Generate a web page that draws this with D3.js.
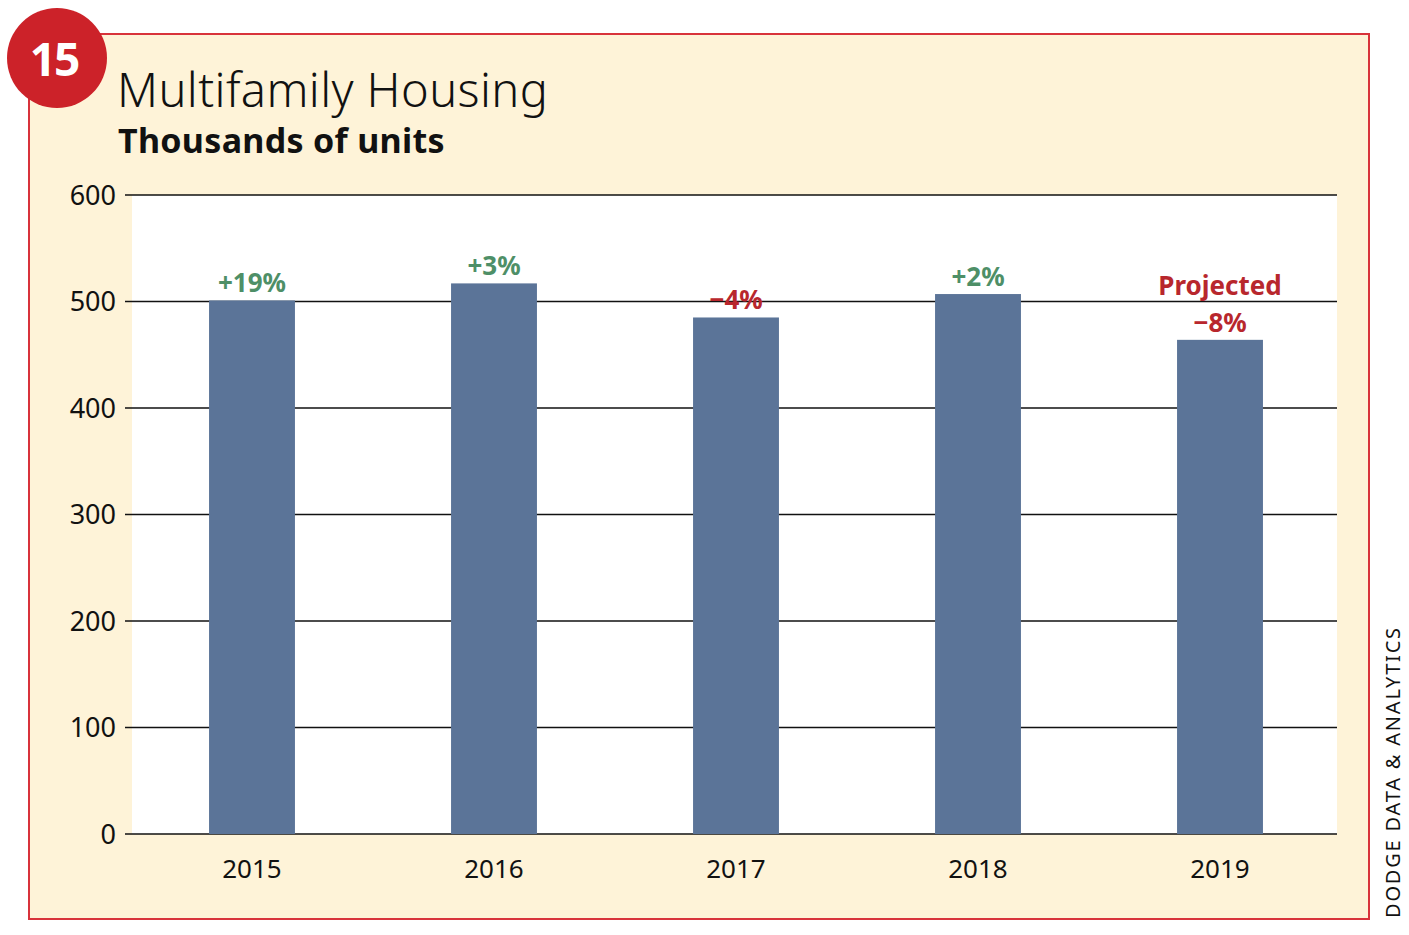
<!DOCTYPE html>
<html><head><meta charset="utf-8">
<script src="https://cdn.jsdelivr.net/npm/d3@7"></script>
<style>body{margin:0;background:#fff;} svg{display:block;font-family:"Noto Sans","Open Sans",sans-serif;}</style>
</head><body>
<svg id="c" width="1409" height="935"></svg>
<script>
const years = ["2015","2016","2017","2018","2019"];
const units = [501, 517, 485, 507, 464];
const changes = ["+19%","+3%","\u22124%","+2%","\u22128%"];
const changeColors = ["#4e8f67","#4e8f67","#b8272d","#4e8f67","#b8272d"];
const yTicks = [0,100,200,300,400,500,600];

const svg = d3.select("#c");
svg.append("rect").attr("x",29).attr("y",34).attr("width",1340).attr("height",885)
  .attr("fill","#fef3d8").attr("stroke","#d8333b").attr("stroke-width",2);

const L=132, R=1337, T=195, B=834;
svg.append("rect").attr("x",L).attr("y",T).attr("width",R-L).attr("height",B-T).attr("fill","#fff");

const x = d3.scaleBand().domain(years).range([131,1341]).paddingInner(0.645).paddingOuter(0.3225);
const y = d3.scaleLinear().domain([0,600]).range([B,T]);

const g = svg.append("g");
yTicks.forEach(t=>{
  g.append("line").attr("x1",125).attr("x2",R).attr("y1",y(t)).attr("y2",y(t))
   .attr("stroke","#111").attr("stroke-width",1.3);
  g.append("text").attr("x",116).attr("y",y(t)).attr("dy","0.36em").attr("text-anchor","end")
   .attr("font-size",27).attr("fill","#111").text(t);
});

svg.selectAll("rect.bar").data(years).enter().append("rect").attr("class","bar")
  .attr("x",d=>x(d)).attr("width",x.bandwidth())
  .attr("y",(d,i)=>y(units[i])).attr("height",(d,i)=>B-y(units[i]))
  .attr("fill","#5b7498");

svg.selectAll("text.xl").data(years).enter().append("text").attr("class","xl")
  .attr("x",d=>x(d)+x.bandwidth()/2).attr("y",878).attr("text-anchor","middle")
  .attr("font-size",26).attr("fill","#111").text(d=>d);

svg.selectAll("text.ch").data(years).enter().append("text").attr("class","ch")
  .attr("x",d=>x(d)+x.bandwidth()/2).attr("y",(d,i)=>y(units[i])-8).attr("text-anchor","middle")
  .attr("font-size",26).attr("font-weight","bold").attr("fill",(d,i)=>changeColors[i])
  .text((d,i)=>changes[i]);
svg.append("text").attr("x",x("2019")+x.bandwidth()/2).attr("y",y(units[4])-45).attr("text-anchor","middle")
  .attr("font-size",26).attr("font-weight","bold").attr("fill","#b8272d").text("Projected");

svg.append("circle").attr("cx",57).attr("cy",58).attr("r",50).attr("fill","#cc2229");
svg.append("text").attr("x",54).attr("y",76).attr("text-anchor","middle").attr("font-size",46)
  .attr("font-weight","bold").attr("fill","#fff").attr("letter-spacing",-2).text("15");

svg.append("text").attr("x",117).attr("y",107).attr("font-size",47).attr("font-weight",300)
  .attr("letter-spacing",0.4).attr("fill","#111").text("Multifamily Housing");
svg.append("text").attr("x",118).attr("y",153).attr("font-size",34).attr("font-weight","bold")
  .attr("letter-spacing",0.3).attr("fill","#111").text("Thousands of units");

svg.append("text").attr("transform","translate(1400,918) rotate(-90)").attr("font-size",20)
  .attr("letter-spacing",1.8).attr("fill","#111").text("DODGE DATA & ANALYTICS");
</script>
</body></html>
